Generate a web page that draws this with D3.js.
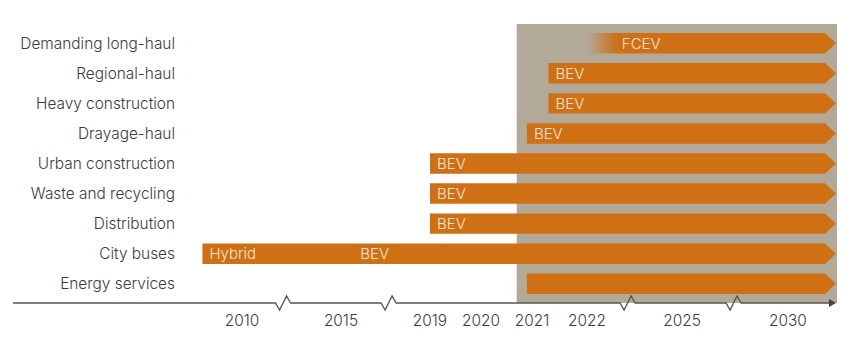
<!DOCTYPE html>
<html>
<head>
<meta charset="utf-8">
<script src="https://cdn.jsdelivr.net/npm/d3@7"></script>
<style>
  body { margin: 0; background: #fff; }
  svg { display: block; font-family: Inter, Lato, "Open Sans", sans-serif; font-weight: 300; }
</style>
</head>
<body>
<svg id="chart" width="853" height="352"></svg>
<script>
// segments used
const categories = ['Demanding long-haul', 'Regional-haul', 'Heavy construction', 'Drayage-haul',
	'Urban construction', 'Waste and recycling', 'Distribution', 'City buses', 'Energy services']
const startYears = [2022, 2021.3, 2021.3, 2020.9, 2019, 2019, 2019, 2008, 2020.9]
const fadeUntil = [2022.95, null, null, null, null, null, null, null, null]
const endYear = 2032

// text inside bars: [row, year, label]
const barTexts = [
	[0, 2022.88, 'FCEV'], [1, 2021.3, 'BEV'], [2, 2021.3, 'BEV'], [3, 2020.9, 'BEV'],
	[4, 2019, 'BEV'], [5, 2019, 'BEV'], [6, 2019, 'BEV'], [7, 2008, 'Hybrid'], [7, 2015.55, 'BEV']
]

// broken time axis
const tickYears = [2010, 2015, 2019, 2020, 2021, 2022, 2025, 2030]
const breakYears = [2012.2, 2017.25, 2023.36, 2027.55]
const highlightFrom = 2020.7

const orange = '#cf7014'
const grey = '#b3a999'

const svg = d3.select('#chart')
const axisY = 303

const x = d3.scaleLinear()
	.domain([2010, 2015, 2019, 2020, 2021, 2022, 2025, 2030, 2032])
	.range([242, 341, 430, 481, 532, 587, 682, 788, 836])

const y = d3.scaleBand().domain(categories).range([30, 297]).paddingInner(0.32).paddingOuter(0.1)

const defs = svg.append('defs')
const grad = defs.append('linearGradient').attr('id', 'fade')
grad.append('stop').attr('offset', '0%').attr('stop-color', orange).attr('stop-opacity', 0)
grad.append('stop').attr('offset', '100%').attr('stop-color', orange).attr('stop-opacity', 1)

svg.append('rect')
	.attr('x', x(highlightFrom)).attr('y', 24)
	.attr('width', x(endYear) + 1 - x(highlightFrom)).attr('height', axisY - 24)
	.style('fill', grey)

// row labels
svg.append('g').selectAll('text').data(categories)
	.enter().append('text')
	.attr('x', 175)
	.attr('y', d => y(d) + y.bandwidth() / 2)
	.attr('dy', '0.35em')
	.attr('text-anchor', 'end')
	.style('font-size', '15.4px')
	.style('fill', '#3b3b3b')
	.text(d => d)

const arrowDepth = 11
const bars = svg.append('g')
categories.forEach((c, i) => {
	const y0 = y(c), h = y.bandwidth()
	const x0 = x(startYears[i]), x1 = x(endYear)
	const solidFrom = fadeUntil[i] ? x(fadeUntil[i]) : x0
	if (fadeUntil[i]) {
		bars.append('rect')
			.attr('x', x0).attr('y', y0).attr('width', solidFrom - x0).attr('height', h)
			.style('fill', 'url(#fade)')
	}
	bars.append('path')
		.attr('d', `M${solidFrom},${y0}H${x1 - arrowDepth}L${x1},${y0 + h / 2}L${x1 - arrowDepth},${y0 + h}H${solidFrom}Z`)
		.style('fill', orange)
})

svg.append('g').selectAll('text').data(barTexts)
	.enter().append('text')
	.attr('x', d => x(d[1]) + 7)
	.attr('y', d => y(categories[d[0]]) + y.bandwidth() / 2)
	.attr('dy', '0.36em')
	.style('font-size', '15px')
	.style('fill', '#f6e6d6')
	.text(d => d[2])

// axis line with zigzag breaks
const axisG = svg.append('g').style('stroke', '#555').style('fill', 'none').style('stroke-width', 1.3)
let d = `M13,${axisY}`
breakYears.forEach(b => {
	const c = x(b)
	d += `H${c - 10}L${c - 6},${axisY + 7}L${c + 1},${axisY - 7}L${c + 5},${axisY}`
})
d += `H${x(endYear) - 6}`
axisG.append('path').attr('d', d)
svg.append('path')
	.attr('d', `M${x(endYear) - 7},${axisY - 4}L${x(endYear)},${axisY}L${x(endYear) - 7},${axisY + 4}Z`)
	.style('fill', '#444')

svg.append('g').selectAll('text').data(tickYears)
	.enter().append('text')
	.attr('x', d => x(d))
	.attr('y', axisY + 23)
	.attr('text-anchor', 'middle')
	.style('font-size', '15.4px')
	.style('fill', '#3b3b3b')
	.text(d => d)
</script>
</body>
</html>
